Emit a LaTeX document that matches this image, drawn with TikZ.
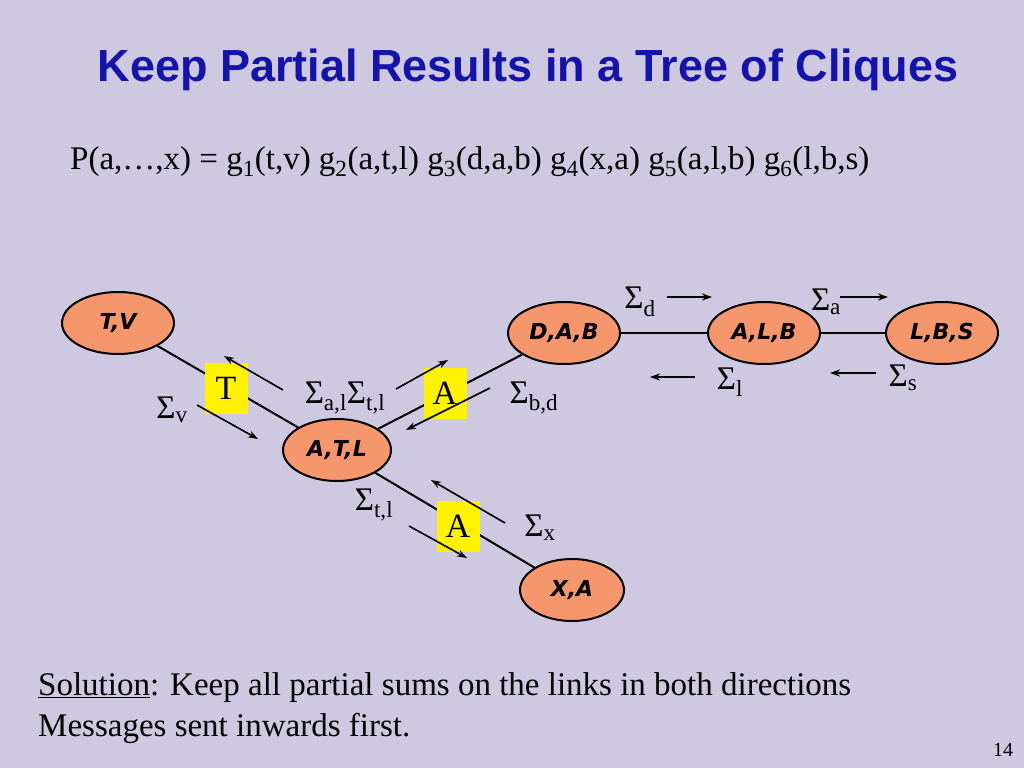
\documentclass[tikz,border=0pt]{standalone}
\usepackage{fontspec}
\setmainfont{Liberation Serif}
\newfontfamily\titlefont{Liberation Sans}
\newfontfamily\cliquefont{DejaVu Sans}
\usetikzlibrary{positioning,arrows.meta,shapes.geometric}
\definecolor{slidebg}{RGB}{206,200,224}
\definecolor{cliquefill}{RGB}{246,150,108}
\definecolor{titleblue}{RGB}{20,20,170}
\newcommand{\sm}[1]{Σ\textsubscript{#1}}
\begin{document}
\begin{tikzpicture}[x=1pt,y=-1pt,
    clique/.style={ellipse, draw, line width=2pt, fill=cliquefill, minimum width=#1, minimum height=62pt,
      font=\cliquefont\bfseries\itshape\fontsize{22}{24}\selectfont, inner sep=0pt},
    link/.style={line width=2pt},
    msg/.style={line width=1.6pt, -{Stealth[length=10pt,width=7pt]}},
    sep/.style={fill=yellow, minimum width=43pt, minimum height=51pt, inner sep=0pt, font=\fontsize{34}{36}\selectfont},
    lab/.style={font=\fontsize{33}{36}\selectfont, inner sep=0pt}]
\fill[slidebg] (0,0) rectangle (1024,768);
\useasboundingbox (0,0) rectangle (1024,768);
\node[font=\titlefont\bfseries\fontsize{45}{50}\selectfont, text=titleblue] (title) at (528,70) {Keep Partial Results in a Tree of Cliques};
\node[lab, anchor=west] (formula) at (70,162) {P(a,…,x) = g\textsubscript{1}(t,v) g\textsubscript{2}(a,t,l) g\textsubscript{3}(d,a,b) g\textsubscript{4}(x,a) g\textsubscript{5}(a,l,b) g\textsubscript{6}(l,b,s)};
% cliques
\node[clique=112pt] (tv) at (118,323) {T,V};
\node[clique=112pt] (dab) at (564,333) {D,A,B};
\node[clique=112pt] (alb) at (764,333) {A,L,B};
\node[clique=112pt] (lbs) at (942,333) {L,B,S};
\node[clique=108pt] (atl) at (337,450) {A,T,L};
\node[clique=104pt] (xa) at (572,590) {X,A};
\draw[link] (tv) -- (atl);
\draw[link] (dab) -- (atl);
\draw[link] (atl) -- (xa);
\draw[link] (dab) -- (alb);
\draw[link] (alb) -- (lbs);
% separators
\node[sep] (sepT) at (226,388) {T};
\node[sep] (sepA1) at (445,393) {A};
\node[sep] (sepA2) at (458,526) {A};
% messages
\coordinate (m1a) at (283,390); \coordinate (m1b) at (224,356);
\coordinate (m2a) at (197,405); \coordinate (m2b) at (258,439);
\coordinate (m3a) at (396,389); \coordinate (m3b) at (448,360);
\coordinate (m4a) at (490,388); \coordinate (m4b) at (406,430);
\coordinate (m5a) at (505,523); \coordinate (m5b) at (431,480);
\coordinate (m6a) at (409,526); \coordinate (m6b) at (467,558);
\coordinate (m7a) at (667,297); \coordinate (m7b) at (712,297);
\coordinate (m8a) at (840,297); \coordinate (m8b) at (888,297);
\coordinate (m9a) at (695,377); \coordinate (m9b) at (650,377);
\coordinate (m10a) at (876,373); \coordinate (m10b) at (830,373);
\foreach \m in {1,...,10}
  \draw[msg] (m\m a) -- (m\m b);
% sums
\node[lab] (sv) at (172,410) {\sm{v}};
\node[lab] (satl) at (345,398) {\sm{a,l}\sm{t,l}};
\node[lab] (sbd) at (534,398) {\sm{b,d}};
\node[lab] (stl) at (374,505) {\sm{t,l}};
\node[lab] (sx) at (540,528) {\sm{x}};
\node[lab] (sd) at (640,302) {\sm{d}};
\node[lab] (sa) at (826,302) {\sm{a}};
\node[lab] (sl) at (730,382) {\sm{l}};
\node[lab] (ss) at (903,378) {\sm{s}};
% footer
\node[lab, anchor=west] (sol) at (38,688) {\underline{Solution}: Keep all partial sums on the links in both directions};
\node[lab, anchor=west] (msgs) at (38,728) {Messages sent inwards first.};
\node[font=\fontsize{20}{22}\selectfont] (page) at (1003,750) {14};
\end{tikzpicture}
\end{document}
